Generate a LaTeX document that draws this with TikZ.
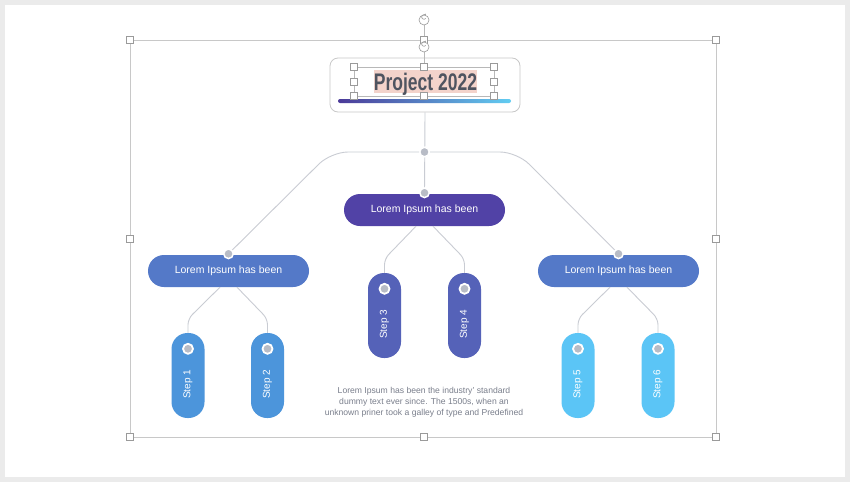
\documentclass[tikz,border=0pt]{standalone}
\usepackage{fontspec}
\setmainfont{Liberation Sans}
\usetikzlibrary{calc,arrows.meta}
\definecolor{bgout}{HTML}{EBEBEB}
\definecolor{framec}{HTML}{C8C8C8}
\definecolor{handlec}{HTML}{9A9A9A}
\definecolor{connc}{HTML}{C9CCD3}
\definecolor{dotc}{HTML}{B8BCC6}
\definecolor{cmain}{HTML}{5142A6}
\definecolor{cpar}{HTML}{5479C8}
\definecolor{cstepa}{HTML}{4C95DB}
\definecolor{cstepb}{HTML}{5562B8}
\definecolor{cstepc}{HTML}{5BC5F6}
\definecolor{titc}{HTML}{4F5460}
\definecolor{hl}{HTML}{F3D3CB}
\definecolor{gpurp}{HTML}{4B3A98}
\definecolor{gblue}{HTML}{62CDF2}
\definecolor{btext}{HTML}{7A7F8C}
\begin{document}
\begin{tikzpicture}[x=1pt,y=-1pt,
  pill/.style={rectangle, rounded corners=16pt, minimum width=161pt, minimum height=32pt, inner sep=0pt, text=white, font=\fontsize{10.5}{12}\selectfont},
  steppill/.style={rectangle, rounded corners=16pt, minimum width=33pt, minimum height=85pt, inner sep=0pt},
  steptext/.style={rotate=90, text=white, font=\fontsize{10}{12}\selectfont, inner sep=0pt},
  conn/.style={draw=connc, line width=0.9pt},
  dot/.style={circle, fill=dotc, draw=white, line width=1.5pt, minimum size=9.5pt, inner sep=0pt},
  handle/.style={rectangle, draw=handlec, fill=white, minimum size=7pt, inner sep=0pt, line width=0.6pt},
  selframe/.style={draw=framec, line width=0.8pt},
  rothandle/.style={circle, draw=handlec, fill=white, minimum size=10pt, inner sep=0pt, line width=0.6pt}
]
\useasboundingbox (0,0) rectangle (850,482);
\fill[bgout] (0,0) rectangle (850,482);
\fill[white] (5,5) rectangle (845,477);

% outer selection frame
\draw[selframe] (130,40) rectangle (716,437);

% title box
\node[draw=framec, rounded corners=8pt, minimum width=190pt, minimum height=54pt, line width=0.8pt, inner sep=0pt] (title) at (425,85) {};
\fill[hl] (374,70) rectangle (477,93);
\node[anchor=base, text=titc, draw=titc!80!black, line width=0.3pt, inner sep=0pt, font=\fontsize{24}{24}\selectfont\bfseries, draw opacity=0] (ttext) at (425.5,90) {\scalebox{0.73}[1]{Project 2022}};
\shade[left color=gpurp, right color=gblue, rounded corners=2pt] (338,99) rectangle (511,103);

% main nodes
\node[pill, fill=cmain] (C) at (424.5,210) {Lorem Ipsum has been};
\node[pill, fill=cpar] (L) at (228.5,271) {Lorem Ipsum has been};
\node[pill, fill=cpar] (R) at (618.5,271) {Lorem Ipsum has been};

% steps
\foreach \n/\x/\y/\c in {1/188/375.5/cstepa, 2/267.5/375.5/cstepa, 3/384.5/315.5/cstepb, 4/464.5/315.5/cstepb, 5/578/375.5/cstepc, 6/658/375.5/cstepc}{
  \node[steppill, fill=\c] (s\n) at (\x,\y) {};
  \node[steptext] (t\n) at ($(s\n.center)+(0,9)$) {Step \n};
  \node[dot, minimum size=10pt, line width=1.8pt] (d\n) at ($(s\n.north)+(0,16)$) {};
}

% connectors to children
\draw[conn, rounded corners=6pt] ([xshift=-8.5pt]L.south) -- ([yshift=14pt]s1.north) -- (s1.north);
\draw[conn, rounded corners=6pt] ([xshift=8.5pt]L.south) -- ([yshift=14pt]s2.north) -- (s2.north);
\draw[conn, rounded corners=6pt] ([xshift=-8.5pt]C.south) -- ([yshift=14pt]s3.north) -- (s3.north);
\draw[conn, rounded corners=6pt] ([xshift=8.5pt]C.south) -- ([yshift=14pt]s4.north) -- (s4.north);
\draw[conn, rounded corners=6pt] ([xshift=-8.5pt]R.south) -- ([yshift=14pt]s5.north) -- (s5.north);
\draw[conn, rounded corners=6pt] ([xshift=8.5pt]R.south) -- ([yshift=14pt]s6.north) -- (s6.north);

% main branch
\coordinate (Lc) at (331,152);
\coordinate (Rc) at (517,152);
\draw[conn, rounded corners=17pt] ([yshift=1pt]L.north) -- (Lc) -- (Rc) -- ([yshift=1pt]R.north);
\draw[conn] (title.south) -- ([yshift=1pt]C.north);
\node[dot] (Ld) at ([yshift=1pt]L.north) {};
\node[dot] (Rd) at ([yshift=1pt]R.north) {};
\node[dot] (Cd) at ([yshift=1pt]C.north) {};
\node[dot] (Jd) at (424.5,152) {};

% description
\node[align=center, text=btext, font=\fontsize{8.6}{11}\selectfont, inner sep=0pt] (desc) at (424,402) {Lorem Ipsum has been the industry' standard\\dummy text ever since. The 1500s, when an\\unknown priner took a galley of type and Predefined};

% inner text box selection
\draw[selframe, draw=handlec!70] (354,67) rectangle (494,96);
\draw[draw=handlec!70, line width=0.6pt] (424,20) -- (424,40);
\draw[draw=handlec!70, line width=0.6pt] (424,47) -- (424,67);
\foreach \p/\q [count=\i] in {354/67, 424/67, 494/67, 354/81.5, 494/81.5, 354/96, 424/96, 494/96}{
  \node[handle] (ih\i) at (\p,\q) {};
}
% outer handles
\foreach \p/\q [count=\i] in {130/40, 424/40, 716/40, 130/239, 716/239, 130/437, 424/437, 716/437}{
  \node[handle] (oh\i) at (\p,\q) {};
}
% rotation handles
\foreach \q [count=\i] in {20, 47}{
  \node[rothandle] (rh\i) at (424,\q) {};
  \draw[handlec, line width=0.6pt, -{Stealth[length=1.6pt,width=2pt]}] ($(rh\i.center)+(40:2.4pt)$) arc[start angle=-40, end angle=-320, radius=2.4pt];
}
\end{tikzpicture}
\end{document}
